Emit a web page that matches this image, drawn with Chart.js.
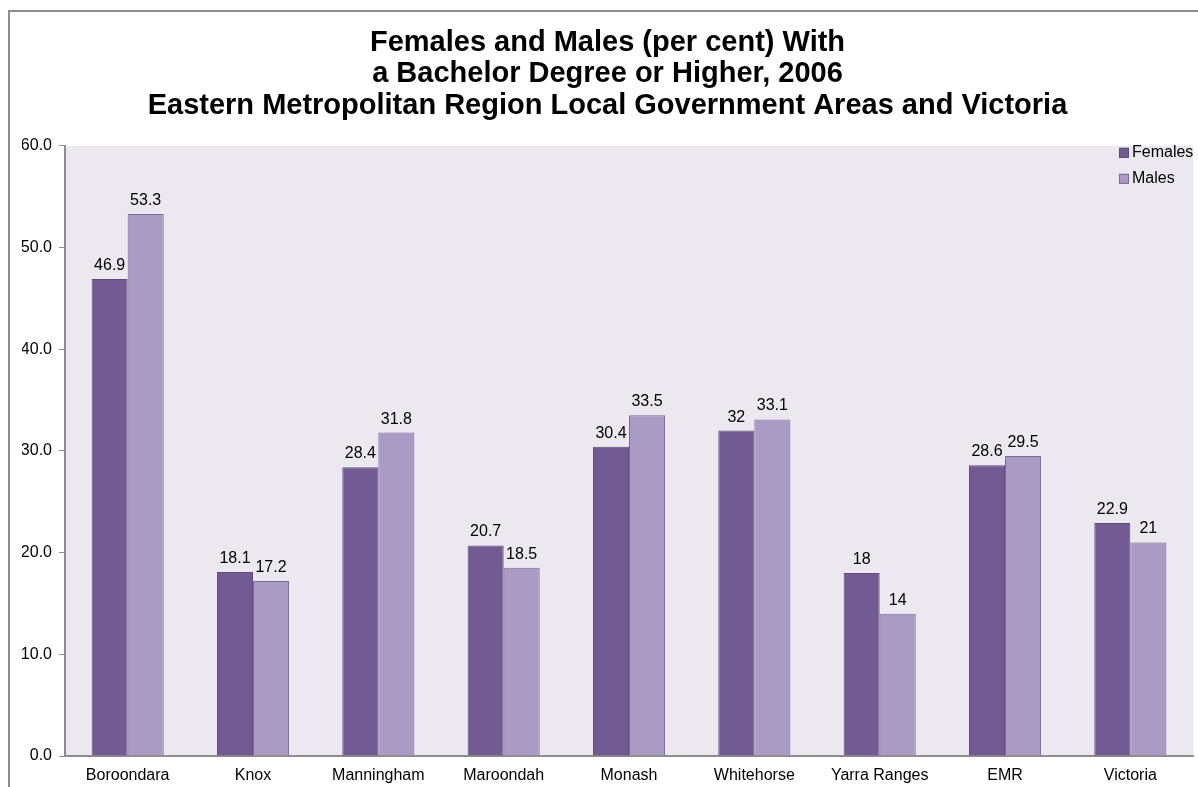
<!DOCTYPE html>
<html>
<head>
<meta charset="utf-8">
<script src="https://cdn.jsdelivr.net/npm/chart.js@4/dist/chart.umd.min.js"></script>
<style>
  body { margin: 0; background: #fff; }
  #frame { position: absolute; left: 8px; top: 10px; width: 1300px; height: 900px;
           border-left: 2px solid #8c8c8c; border-top: 2px solid #8c8c8c; }
  #wrap { position: absolute; left: 0; top: 0; width: 1198px; height: 787px; }
</style>
</head>
<body>
<div id="frame"></div>
<div id="wrap"><canvas id="chart" width="1198" height="787"></canvas></div>
<script>
const areas = ["Boroondara", "Knox", "Manningham", "Maroondah", "Monash", "Whitehorse", "Yarra Ranges", "EMR", "Victoria"];
const females = [46.9, 18.1, 28.4, 20.7, 30.4, 32, 18, 28.6, 22.9];
const males = [53.3, 17.2, 31.8, 18.5, 33.5, 33.1, 14, 29.5, 21];
const titleLines = [
  "Females and Males (per cent) With",
  "a Bachelor Degree or Higher, 2006",
  "Eastern Metropolitan Region Local Government Areas and Victoria"
];

const FONT = "'Liberation Sans', Arial, sans-serif";

// plot background + value labels + legend inside the plot area
const extras = {
  id: 'extras',
  beforeDraw(chart) {
    const a = chart.chartArea;
    const ctx = chart.ctx;
    ctx.save();
    ctx.fillStyle = '#ebe8ef';
    ctx.fillRect(a.left, a.top, a.right - a.left, a.bottom - a.top);
    ctx.restore();
  },
  afterDatasetsDraw(chart) {
    const ctx = chart.ctx;
    ctx.save();
    ctx.font = '16px ' + FONT;
    ctx.fillStyle = '#000';
    ctx.textAlign = 'center';
    ctx.textBaseline = 'alphabetic';
    chart.data.datasets.forEach((ds, i) => {
      chart.getDatasetMeta(i).data.forEach((bar, j) => {
        ctx.fillText(String(ds.data[j]), bar.x, bar.y - 9);
      });
    });

    // legend
    const a = chart.chartArea;
    ctx.font = '16px ' + FONT;
    ctx.textAlign = 'left';
    ctx.textBaseline = 'middle';
    chart.data.datasets.forEach((ds, i) => {
      const y = a.top + 7 + i * 26;
      const x = a.right - 74;
      ctx.fillStyle = ds.backgroundColor;
      ctx.fillRect(x, y - 5, 10, 10);
      ctx.strokeStyle = ds.borderColor;
      ctx.lineWidth = 1;
      ctx.strokeRect(x + 0.5, y - 4.5, 9, 9);
      ctx.fillStyle = '#000';
      ctx.fillText(ds.label, x + 13, y);
    });
    ctx.restore();
  }
};

new Chart(document.getElementById('chart'), {
  type: 'bar',
  data: {
    labels: areas,
    datasets: [
      { label: 'Females', data: females, backgroundColor: '#725b93', borderColor: '#5e4a7d', borderWidth: 1 },
      { label: 'Males', data: males, backgroundColor: '#a99bc3', borderColor: '#7c6a9a', borderWidth: 1 }
    ]
  },
  options: {
    responsive: false,
    animation: false,
    layout: { padding: { left: 22, right: 5, top: 27, bottom: 1 } },
    datasets: { bar: { categoryPercentage: 0.575, barPercentage: 1 } },
    plugins: {
      legend: { display: false },
      tooltip: { enabled: false },
      title: {
        display: true,
        text: titleLines,
        color: '#000',
        font: { family: FONT, size: 29, weight: 'bold', lineHeight: 1.09 },
        padding: { top: 0, bottom: 24 }
      }
    },
    scales: {
      x: {
        afterFit(scale) { scale.height = 30; },
        grid: { display: false, drawTicks: false },
        border: { color: '#8c8c8c', width: 2 },
        ticks: { color: '#000', font: { family: FONT, size: 16 }, padding: 10, maxRotation: 0, autoSkip: false }
      },
      y: {
        min: 0,
        max: 60,
        afterFit(scale) { scale.width = 43; },
        grid: { drawOnChartArea: false, drawTicks: true, tickLength: 6, tickColor: '#8c8c8c' },
        border: { color: '#8c8c8c', width: 2 },
        ticks: {
          stepSize: 10,
          color: '#000',
          padding: 7,
          font: { family: FONT, size: 16 },
          callback: (v) => v.toFixed(1)
        }
      }
    }
  },
  plugins: [extras]
});
</script>
</body>
</html>
